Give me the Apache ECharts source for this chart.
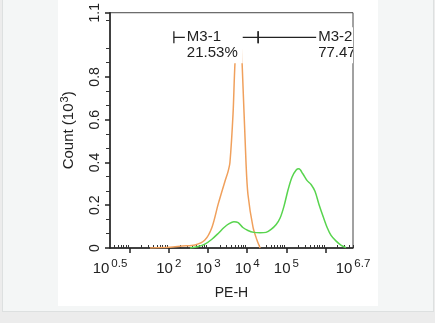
<!DOCTYPE html>
<html><head><meta charset="utf-8">
<script src="https://cdn.jsdelivr.net/npm/echarts@6/dist/echarts.min.js"></script>
<style>
html,body{margin:0;padding:0;width:435px;height:323px;overflow:hidden;background:#ececec;font-family:"Liberation Sans",Arial,sans-serif;}
#page{position:absolute;left:2px;top:-1px;width:430px;height:311px;background:#f4f6f6;border:1px solid #dde0e0;}
#card{position:absolute;left:58px;top:0;width:320px;height:306px;background:#fff;}
#chart{position:absolute;left:0;top:0;width:435px;height:323px;}
</style></head>
<body>
<div id="page"></div><div id="card"></div>
<div id="chart"></div>
<script>
// x values are log10(PE-H); counts in units of 10^3
const orangeX = [1.52,2.03,2.34,2.67,2.92,3.10,3.26,3.43,3.51,3.56,3.64,3.69,3.74,3.79,3.84,3.87,3.97,4.02,4.15,4.25,4.33];
const orangeY = [0,0.003,0.009,0.014,0.037,0.096,0.205,0.31,0.356,0.40,0.63,0.867,0.95,0.97,0.95,0.867,0.40,0.25,0.096,0.037,0];
const greenX = [2.54,2.75,2.92,3.10,3.26,3.41,3.54,3.66,3.77,3.89,4.02,4.17,4.33,4.48,4.61,4.74,4.84,4.94,5.04,5.14,5.25,5.32,5.42,5.53,5.63,5.73,5.83,5.94,6.04,6.14,6.27,6.39,6.52];
const greenY = [0,0.007,0.018,0.041,0.068,0.096,0.114,0.123,0.119,0.096,0.082,0.073,0.071,0.073,0.087,0.11,0.14,0.196,0.27,0.33,0.365,0.37,0.347,0.315,0.297,0.265,0.205,0.146,0.096,0.059,0.032,0.014,0.002];
const xLabelExps = [0.5,2,3,4,5,6.7];
const xMajorExps = [1,2,3,4,5,6];
const yLabels = [0,0.2,0.4,0.6,0.8,1.1];
const gateNames = ['M3-1','M3-2'];
const gatePct = ['21.53%','77.47%'];
const gateStart = [2.13,4.28];
const gateEnd = [4.28,8.0];
const gateLabelX = [2.41,5.76];
const gateLevel = 0.985;

const xMin = 0.5, xMax = 6.7, yMax = 1.1;
const xMinor = [];
for (let n = 0; n <= 6; n++) for (let k = 2; k <= 9; k++) { const v = n + Math.log10(k); if (v > xMin && v < xMax) xMinor.push(v); }
const yMinor = [];
for (let i = 1; i < 17; i++) { const v = +(i * 0.2 / 3).toFixed(4); if (i % 3 !== 0 && v < yMax) yMinor.push(v); }

const font = '"Liberation Sans", Arial, sans-serif';
const txt = '#222';
const chart = echarts.init(document.getElementById('chart'), null, {renderer: 'canvas'});
chart.setOption({
  backgroundColor: 'transparent',
  animation: false,
  grid: {left: 110, right: 82, top: 7, bottom: 75, show: true, borderColor: '#444', borderWidth: 1, backgroundColor: 'transparent'},
  xAxis: [{
    type: 'value', min: xMin, max: xMax, position: 'bottom',
    name: 'PE-H', nameLocation: 'middle', nameGap: 38,
    nameTextStyle: {fontFamily: font, fontSize: 14, color: txt},
    axisLine: {show: true, onZero: false, lineStyle: {color: '#222', width: 1.5}},
    axisTick: {show: true, customValues: xMajorExps, length: 5, inside: false, lineStyle: {color: '#222', width: 1.5}},
    axisLabel: {show: true, customValues: xLabelExps, margin: 10, fontFamily: font, color: txt,
      formatter: v => '{b|10}{s|' + v + '}',
      rich: {b: {fontSize: 15, fontFamily: font, color: txt}, s: {fontSize: 11.5, fontFamily: font, color: txt, padding: [0, 0, 9, 2]}}},
    splitLine: {show: false}
  }, {
    type: 'value', min: xMin, max: xMax, position: 'bottom',
    axisLine: {show: false, onZero: false},
    axisTick: {show: true, customValues: xMinor, length: 3, inside: true, lineStyle: {color: '#333', width: 1}},
    axisLabel: {show: false}, splitLine: {show: false}
  }],
  yAxis: [{
    type: 'value', min: 0, max: yMax,
    name: 'Count (10{s|3})', nameLocation: 'middle', nameGap: 32,
    nameTextStyle: {fontFamily: font, fontSize: 15, color: txt,
      rich: {s: {fontSize: 11, fontFamily: font, color: txt, padding: [0, 0, 8, 1]}}},
    axisLine: {show: true, onZero: false, lineStyle: {color: '#222', width: 1.5}},
    axisTick: {show: true, customValues: yLabels, length: 5, lineStyle: {color: '#222', width: 1.5}},
    axisLabel: {show: true, customValues: yLabels, rotate: 90, margin: 8, fontFamily: font, fontSize: 14, color: txt},
    splitLine: {show: false}
  }, {
    type: 'value', min: 0, max: yMax, position: 'left',
    axisLine: {show: false, onZero: false},
    axisTick: {show: true, customValues: yMinor, length: 4, lineStyle: {color: '#333', width: 1}},
    axisLabel: {show: false}, splitLine: {show: false}
  }],
  series: [{
    type: 'line', name: 'control', data: orangeX.map((x, i) => [x, orangeY[i]]),
    showSymbol: false, smooth: 0.3, clip: true, z: 3,
    lineStyle: {color: '#f0a05c', width: 1.5}
  }, {
    type: 'line', name: 'sample', data: greenX.map((x, i) => [x, greenY[i]]),
    showSymbol: false, smooth: 0.3, clip: true, z: 3,
    lineStyle: {color: '#58d44e', width: 1.5}
  }, {
    type: 'custom', name: 'gates', clip: true, z: 5,
    data: gateNames.map((n, i) => [gateStart[i], gateLevel, gateEnd[i], gateLabelX[i]]),
    encode: {x: [0, 2, 3], y: 1},
    renderItem: (params, api) => {
      const i = params.dataIndex;
      const p0 = api.coord([api.value(0), api.value(1)]);
      const p1 = api.coord([api.value(2), api.value(1)]);
      const pl = api.coord([api.value(3), api.value(1)]);
      const ls = {stroke: '#222', lineWidth: 1.3};
      return {type: 'group', children: [
        {type: 'line', shape: {x1: p0[0], y1: p0[1], x2: p1[0], y2: p1[1]}, style: ls},
        {type: 'line', shape: {x1: p0[0], y1: p0[1] - 6, x2: p0[0], y2: p0[1] + 6}, style: ls},
        {type: 'line', shape: {x1: p1[0], y1: p1[1] - 6, x2: p1[0], y2: p1[1] + 6}, style: ls},
        {type: 'text', x: pl[0], y: pl[1] - 10, z2: 10, style: {
          text: gateNames[i] + '\n' + gatePct[i], fill: txt, font: '15px ' + font,
          lineHeight: 16, align: 'left', verticalAlign: 'top',
          backgroundColor: '#fff', padding: [2, 5, 2, 2]}}
      ]};
    }
  }]
});
</script>
</body></html>
